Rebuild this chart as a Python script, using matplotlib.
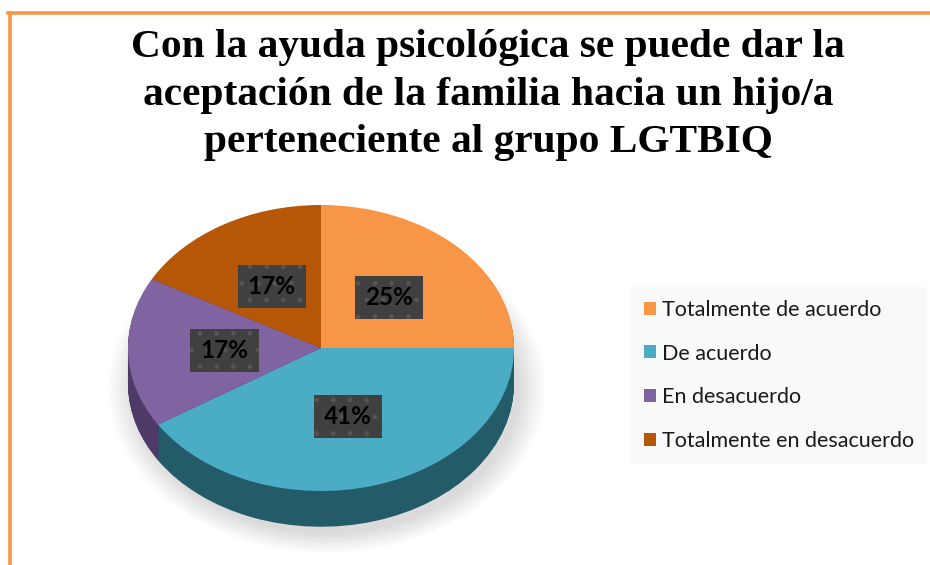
import numpy as np
import matplotlib.pyplot as plt
from matplotlib.lines import Line2D

labels = ["Totalmente de acuerdo", "De acuerdo", "En desacuerdo", "Totalmente en desacuerdo"]
values = [25, 41, 17, 17]
top_colors = ["#F79646", "#4BACC6", "#8064A2", "#B65708"]
side_colors = ["#9C5A22", "#245B69", "#4E3A66", "#6E3505"]
title = "Con la ayuda psicológica se puede dar la\naceptación de la familia hacia un hijo/a\nperteneciente al grupo LGTBIQ"

W, H = 930, 565
fig = plt.figure(figsize=(W / 100, H / 100), dpi=100)

# orange frame (top and left edges only visible)
fig.add_artist(Line2D([8 / W, 1], [1 - 12.5 / H, 1 - 12.5 / H], color="#F79646", lw=2.6))
fig.add_artist(Line2D([10 / W, 10 / W], [0, 1 - 12.5 / H], color="#F79646", lw=2.6))

fig.text(488 / W, 1 - 95 / H, title, ha="center", va="center", fontsize=29.8,
         fontweight="bold", family="Liberation Serif", linespacing=1.38)

# pie axes: 1 unit = 193 px horizontally, 143 px vertically
cx, cy = 321, 348
rx, ry = 193, 143
ax_l, ax_r, ax_t, ax_b = 90, 560, 180, 560
ax = fig.add_axes([ax_l / W, 1 - ax_b / H, (ax_r - ax_l) / W, (ax_b - ax_t) / H])
depth = 0.25
nl = 40

# soft shadow
for k in range(12):
    s = 1.0 + 0.012 * k
    e = plt.matplotlib.patches.Ellipse((0.03, -depth - 0.03), 2 * s, 2 * s * 1.02,
                                       fc="#000000", alpha=0.012, lw=0)
    ax.add_patch(e)

for i in range(nl, 0, -1):
    off = -depth * i / nl
    ax.pie(values, colors=side_colors, startangle=90, counterclock=False,
           center=(0, off), radius=1, wedgeprops=dict(lw=0))

wedges, texts, autotexts = ax.pie(values, colors=top_colors, startangle=90,
                                  counterclock=False, center=(0, 0), radius=1,
                                  autopct="%.0f%%", pctdistance=0.5,
                                  wedgeprops=dict(lw=0))
for t in autotexts:
    t.set_fontsize(17.5)
    t.set_fontweight("bold")
    t.set_family("Lato")
    t.set_color("black")
    t.set_bbox(dict(boxstyle="square,pad=0.42", fc="#404040", ec="#555555",
                    lw=0, hatch="."))

ax.set_aspect("auto")
ax.set_xlim(-(cx - ax_l) / rx, (ax_r - cx) / rx)
ax.set_ylim(-(ax_b - cy) / ry, (cy - ax_t) / ry)
ax.axis("off")

handles = [plt.matplotlib.patches.Patch(fc=c, ec="none") for c in top_colors]
leg = fig.legend(handles, labels, loc="upper left",
                 bbox_to_anchor=(631 / W, 1 - 287 / H), frameon=True,
                 prop=dict(family="Lato", size=15.5), handlelength=0.55,
                 handleheight=0.55, handletextpad=0.3, labelspacing=1.1,
                 borderpad=0.6, borderaxespad=0, fancybox=False)
leg.get_frame().set_facecolor("#F8F8F8")
leg.get_frame().set_edgecolor("none")
for t in leg.get_texts():
    t.set_color("#1a1a1a")

fig.savefig("out.png", dpi=100)
